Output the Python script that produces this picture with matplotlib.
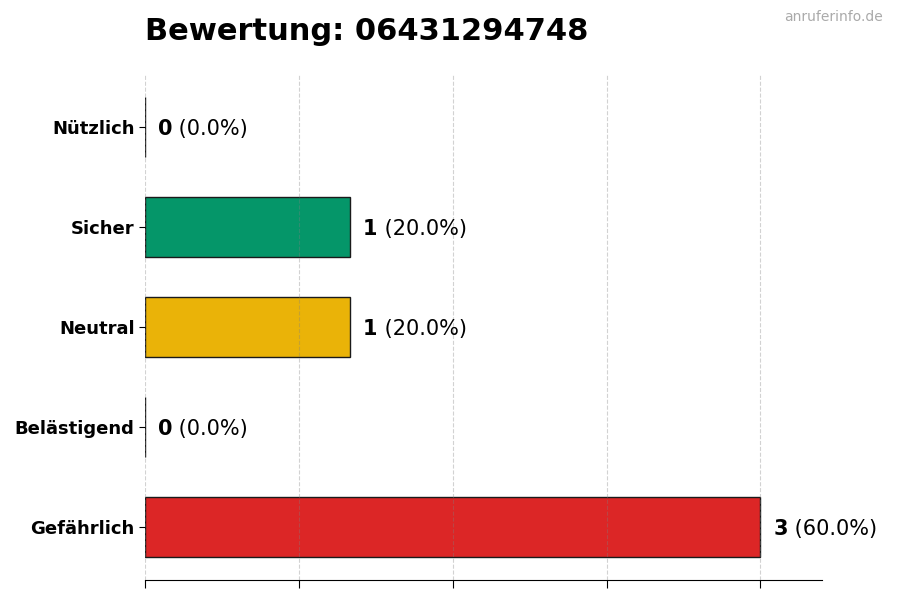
import matplotlib
matplotlib.use("Agg")
import matplotlib.pyplot as plt

categories = ["Nützlich", "Sicher", "Neutral", "Belästigend", "Gefährlich"]
values = [0, 1, 1, 0, 3]
colors = ["#16a34a", "#059669", "#eab308", "#f97316", "#dc2626"]
title = "Bewertung: 06431294748"
watermark = "anruferinfo.de"

total = sum(values)
fig = plt.figure(figsize=(9, 6), dpi=100)
ax = fig.add_axes([145/900, 1 - 580/600, (822-145)/900, 506/600])

ypos = list(range(len(categories)))[::-1]
ax.barh(ypos, values, height=0.6, color=colors, edgecolor="#1a1a1a", linewidth=1.0, zorder=2)
ax.set_yticks(ypos)
ax.set_yticklabels(categories, fontsize=13, fontweight="bold")
ax.set_xlim(0, 3.3)
ax.set_xticks([0, 0.75, 1.5, 2.25, 3.0])
ax.set_xticklabels([])
ax.grid(axis="x", color="#808080", alpha=0.35, linestyle="--", linewidth=0.8, zorder=3)
ax.set_axisbelow(False)
for s in ["top", "right", "left"]:
    ax.spines[s].set_visible(False)
ax.tick_params(axis="x", length=6)
ax.tick_params(axis="y", length=4)

for y, v in zip(ypos, values):
    pct = v / total * 100 if total else 0
    t = ax.text(v + 0.063, y, f"{v}", fontsize=15, fontweight="bold", va="center_baseline", ha="left", zorder=5)
    ax.annotate(f" ({pct:.1f}%)", xy=(1, 0.5), xycoords=t, va="center", ha="left", fontsize=15, zorder=5)

fig.text(145/900, 1 - 31/600, title, fontsize=22, fontweight="bold", va="center", ha="left")
fig.text(883/900, 1 - 17/600, watermark, fontsize=10, color="#aaaaaa", va="center", ha="right")

fig.savefig("out.png", dpi=100)
